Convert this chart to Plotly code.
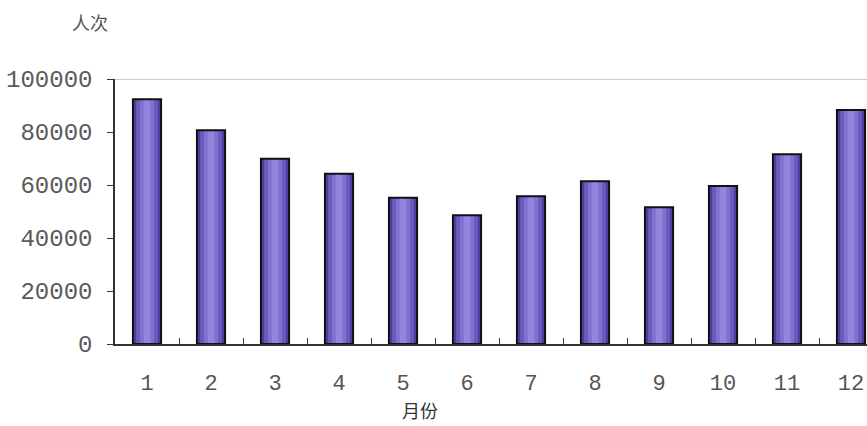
import plotly.graph_objects as go

# Monthly visitor counts (人次)
months = ["1", "2", "3", "4", "5", "6", "7", "8", "9", "10", "11", "12"]
visitors = [92400, 80700, 69900, 64200, 55200, 48600, 55800, 61400, 51600, 59600, 71600, 88300]

y_ticks = [0, 20000, 40000, 60000, 80000, 100000]

mono = "Liberation Mono, DejaVu Sans Mono, monospace"
cjk = "Noto Sans CJK SC, sans-serif"

fig = go.Figure()

# Shaded cylinder look: stacked fills from dark edge to light centre
for w, c in [(0.44, "#4e3f9a"), (0.34, "#6a5bbd"), (0.22, "#7f71d2"), (0.10, "#9286dc")]:
    fig.add_trace(go.Bar(
        x=months, y=visitors, width=w,
        marker=dict(color=c, line=dict(width=0)),
        hoverinfo="skip", showlegend=False,
    ))

# Dark outline drawn on top
fig.add_trace(go.Bar(
    x=months, y=visitors, width=0.44,
    marker=dict(color="rgba(0,0,0,0)", line=dict(color="#111111", width=2)),
    showlegend=False,
))

fig.update_layout(
    width=867, height=426,
    margin=dict(l=115, r=0, t=79, b=82),
    barmode="overlay",
    plot_bgcolor="white", paper_bgcolor="white",
    font=dict(family=mono, color="#444444"),
    xaxis=dict(
        type="category",
        range=[-0.5, 11.25],
        showline=True, linecolor="#333333", linewidth=1.5,
        ticks="inside", tickson="boundaries", ticklen=6, tickcolor="#333333",
        tickfont=dict(family=mono, size=22, color="#555555"),
        showgrid=False, zeroline=False,
        ticklabelstandoff=18,
    ),
    yaxis=dict(
        range=[0, 100000],
        tickvals=y_ticks, ticktext=[str(v) for v in y_ticks],
        showline=True, linecolor="#333333", linewidth=1.5,
        ticks="outside", ticklen=6, tickcolor="#333333",
        tickfont=dict(family=mono, size=24, color="#5a5a5a"),
        showgrid=False, zeroline=False,
        ticklabelstandoff=10,
    ),
    shapes=[dict(
        type="line", xref="paper", yref="y", x0=0, x1=1, y0=100000, y1=100000,
        line=dict(color="#999999", width=1),
    )],
    annotations=[
        dict(text="人次", xref="paper", yref="paper", x=-0.033, y=1.0,
             yshift=57, xanchor="center", yanchor="middle", showarrow=False,
             font=dict(family=cjk, size=18, color="#555555")),
        dict(text="月份", xref="paper", yref="paper", x=0.405, y=0,
             yshift=-66, xanchor="center", yanchor="middle", showarrow=False,
             font=dict(family=cjk, size=18, color="#333333")),
    ],
)

fig.write_html("out.html")
